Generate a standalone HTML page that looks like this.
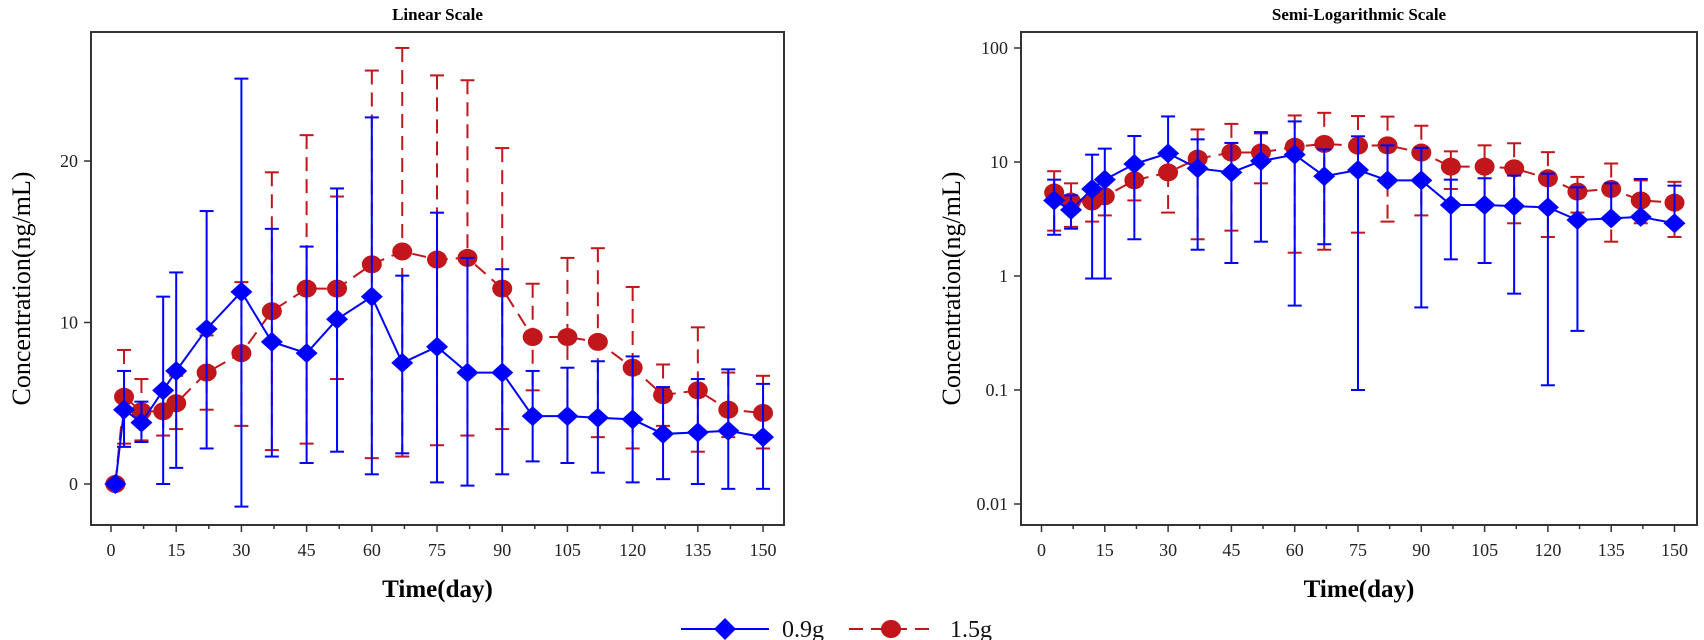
<!DOCTYPE html>
<html><head><meta charset="utf-8"><style>
html,body{margin:0;padding:0;background:#fff;}
svg{display:block;font-family:"Liberation Serif",serif;}
</style></head><body>
<svg id="chart" width="1704" height="640" viewBox="0 0 1704 640" xmlns="http://www.w3.org/2000/svg"></svg>
<script>
const days = [1,3,7,12,15,22,30,37,45,52,60,67,75,82,90,97,105,112,120,127,135,142,150];
const blueMean = [0,4.6,3.8,5.8,7.0,9.6,11.9,8.8,8.1,10.2,11.6,7.5,8.5,6.9,6.9,4.2,4.2,4.1,4.0,3.1,3.2,3.3,2.9];
const blueUp = [0,7.0,5.1,11.6,13.1,16.9,25.1,15.8,14.7,18.3,22.7,12.9,16.8,14.0,13.3,7.0,7.2,7.6,7.9,6.0,6.5,7.1,6.2];
const blueLo = [0,2.3,2.6,0,1.0,2.2,-1.4,1.7,1.3,2.0,0.6,1.9,0.1,-0.1,0.6,1.4,1.3,0.7,0.1,0.3,0,-0.3,-0.3];
const blueLoLog = [0,2.3,2.6,0.95,0.95,2.1,0,1.7,1.3,2.0,0.55,1.9,0.1,0,0.53,1.4,1.3,0.7,0.11,0.33,0,0,0];
const redMean = [0,5.4,4.5,4.5,5.0,6.9,8.1,10.7,12.1,12.1,13.6,14.4,13.9,14.0,12.1,9.1,9.1,8.8,7.2,5.5,5.8,4.6,4.4];
const redUp = [0,8.3,6.5,5.7,6.7,9.2,12.5,19.3,21.6,17.8,25.6,27.0,25.3,25.0,20.8,12.4,14.0,14.6,12.2,7.4,9.7,6.9,6.7];
const redLo = [0,2.5,2.7,3.0,3.4,4.6,3.6,2.1,2.5,6.5,1.6,1.7,2.4,3.0,3.4,5.8,4.2,2.9,2.2,3.6,2.0,2.9,2.2];
const xTicks = [0,15,30,45,60,75,90,105,120,135,150];
const linTicks = [0,10,20];
const logTicks = [0.01,0.1,1,10,100];
const logTickLabels = ["0.01","0.1","1","10","100"];

const svg = document.getElementById('chart');
const NS = 'http://www.w3.org/2000/svg';
function mk(tag, attrs, parent){
  const e = document.createElementNS(NS, tag);
  for (const k in attrs) e.setAttribute(k, attrs[k]);
  (parent||svg).appendChild(e);
  return e;
}
const BLUE = '#0000ff', RED = '#c0161c';

function panel(opt){
  const g = mk('g', {});
  
  
  const {L,R,T,B,x,y} = opt;
  const fr = mk('rect', {x:L, y:T, width:R-L, height:B-T, fill:'none', stroke:'#333', 'stroke-width':2}, g);
  
  
  const t = mk('text', {x:(L+R)/2, y:20, 'text-anchor':'middle', 'font-size':17, 'font-weight':'bold', fill:'#000'}, g);
  t.textContent = opt.title;
  
  
  xTicks.forEach((v,i)=>{
    const px = x(v);
    mk('line', {x1:px, x2:px, y1:B, y2:B+7, stroke:'#333', 'stroke-width':1.5}, g);
    if (i < xTicks.length-1) { const m = x(v+7.5); mk('line', {x1:m, x2:m, y1:B, y2:B+4, stroke:'#333', 'stroke-width':1.5}, g); }
    const tl = mk('text', {x:px, y:B+31, 'text-anchor':'middle', 'font-size':18, fill:'#222'}, g);
    tl.textContent = v;
    
    
  });
  opt.yTicks.forEach((v,i)=>{
    const py = y(v);
    mk('line', {x1:L-7, x2:L, y1:py, y2:py, stroke:'#333', 'stroke-width':1.5}, g);
    const tl = mk('text', {x:L-13, y:py+6, 'text-anchor':'end', 'font-size':18, fill:'#222'}, g);
    tl.textContent = opt.yLabels[i];
    
    
  });
  const xt = mk('text', {x:(L+R)/2, y:597, 'text-anchor':'middle', 'font-size':25, 'font-weight':'bold', fill:'#000'}, g);
  xt.textContent = 'Time(day)';
  
  
  const yt = mk('text', {x:0, y:0, 'text-anchor':'middle', 'font-size':26, fill:'#000', transform:`translate(${L-61},${(T+B)/2+10}) rotate(-90)`}, g);
  yt.textContent = 'Concentration(ng/mL)';
  
  

  const clip = 'clip-'+opt.name;
  const cp = mk('clipPath', {id:clip}, g);
  mk('rect', {x:L, y:T, width:R-L, height:B-T}, cp);
  const pg = mk('g', {'clip-path':`url(#${clip})`}, g);

  function series(mean, up, lo, color, dash, marker, sname){
    const sg = mk('g', {}, pg);
    
    
    const idx = days.map((d,i)=>i).filter(i=>opt.keep(mean[i]));
    idx.forEach(i=>{
      const px = x(days[i]);
      const pu = y(up[i]);
      const hasLo = opt.valid(lo[i]);
      const pl = hasLo ? y(lo[i]) : y(mean[i]);
      const bar = mk('line', {x1:px, x2:px, y1:pu, y2:pl, stroke:color, 'stroke-width':2, 'stroke-dasharray':dash}, sg);
      
      
      mk('line', {x1:px-7, x2:px+7, y1:pu, y2:pu, stroke:color, 'stroke-width':2}, sg);
      if (hasLo) mk('line', {x1:px-7, x2:px+7, y1:pl, y2:pl, stroke:color, 'stroke-width':2}, sg);
    });
    const pts = idx.map(i=>x(days[i])+','+y(mean[i])).join(' ');
    const ln = mk('polyline', {points:pts, fill:'none', stroke:color, 'stroke-width':2, 'stroke-dasharray':dash}, sg);
    
    
    idx.forEach(i=>{
      const px = x(days[i]), py = y(mean[i]);
      let m;
      if (marker==='d') m = mk('polygon', {points:`${px-11},${py} ${px},${py-10} ${px+11},${py} ${px},${py+10}`, fill:color}, sg);
      else m = mk('ellipse', {cx:px, cy:py, rx:10, ry:9, fill:color}, sg);
      
      
    });
  }
  series(redMean, redUp, redLo, RED, '14,8', 'c', 'series-1-5g');
  series(blueMean, blueUp, opt.blueLo, BLUE, 'none', 'd', 'series-0-9g');
}

panel({
  name:'linear-panel', title:'Linear Scale', L:91, R:784, T:32, B:525,
  x: v => 111 + v*4.347,
  y: v => 484 - v*16.15,
  yTicks: linTicks, yLabels: linTicks.map(String),
  keep: v => true, valid: v => true, blueLo: blueLo
});
panel({
  name:'semilog-panel', title:'Semi-Logarithmic Scale', L:1021, R:1697, T:32, B:525,
  x: v => 1041.5 + v*4.22,
  y: v => 276 - Math.log10(v)*114,
  yTicks: logTicks, yLabels: logTickLabels,
  keep: v => v > 0, valid: v => v > 0, blueLo: blueLoLog
});

const lg = mk('g', {});


const e1 = mk('g', {}, lg);


mk('line', {x1:681, x2:769, y1:629, y2:629, stroke:BLUE, 'stroke-width':2}, e1);
mk('polygon', {points:'714,629 725,618 736,629 725,640', fill:BLUE}, e1);
const t1 = mk('text', {x:782, y:637, 'font-size':24, fill:'#111'}, e1); t1.textContent = '0.9g';
const e2 = mk('g', {}, lg);


mk('line', {x1:849, x2:935, y1:629, y2:629, stroke:RED, 'stroke-width':2, 'stroke-dasharray':'14,8'}, e2);
mk('ellipse', {cx:891, cy:629, rx:10, ry:9, fill:RED}, e2);
const t2 = mk('text', {x:950, y:637, 'font-size':24, fill:'#111'}, e2); t2.textContent = '1.5g';
</script>
</body></html>
